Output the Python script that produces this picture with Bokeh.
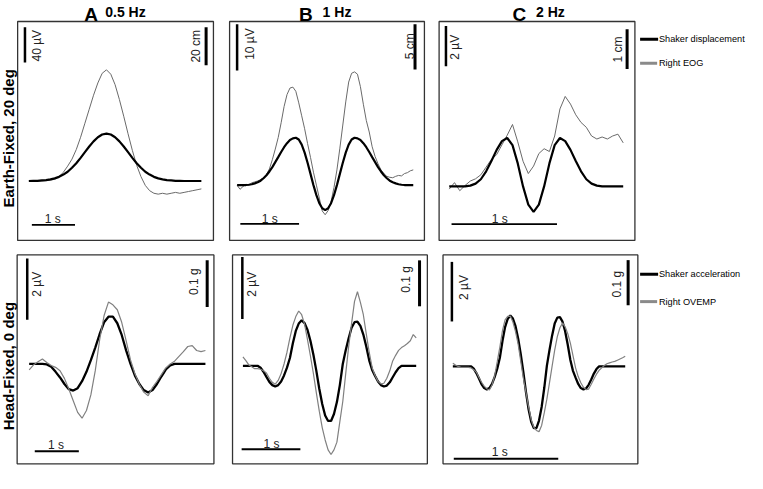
from bokeh.plotting import figure
from bokeh.models import Range1d
from bokeh.core.properties import value
from bokeh.embed import file_html
from bokeh.resources import INLINE

# ---------------- data ----------------
columns = ["A", "B", "C"]
frequencies = ["0.5 Hz", "1 Hz", "2 Hz"]
rows = ["Earth-Fixed, 20 deg", "Head-Fixed, 0 deg"]
legend_top = ["Shaker displacement", "Right EOG"]
legend_bottom = ["Shaker acceleration", "Right OVEMP"]

time_bar_s = [1, 1, 1]
eog_bar_uv = [40, 10, 2]
disp_bar_cm = [20, 5, 1]
ovemp_bar_uv = [2, 2, 2]
acc_bar_g = [0.1, 0.1, 0.1]

# A, Earth-fixed (s, cm, uV)
t_a_top = [round(0.1 * i, 2) for i in range(41)]
disp_a = [0.0, 0.1, 0.1, 0.3, 0.5, 0.9, 1.4, 2.2, 3.4, 4.9, 7.0, 9.4, 12.2, 15.2, 18.2, 20.9, 23.1,
          24.5, 25.0, 24.5, 23.1, 20.9, 18.2, 15.2, 12.2, 9.4, 7.0, 4.9, 3.4, 2.2, 1.4, 0.9, 0.5,
          0.3, 0.1, 0.1, 0.0, 0.0, 0.0, 0.0, 0.0]
eog_a = [0, 0, 0, 0, 0.5, 1, 2, 5, 10, 17, 25, 36, 50, 66, 82, 98, 112, 123, 127, 122, 110, 93,
         74, 54, 35, 18, 5, -5, -11, -14, -15, -14, -15, -14, -13, -14, -13, -12, -11, -10, -9]

# B, Earth-fixed
t_b_disp = [round(0.05 * i, 2) for i in range(61)]
disp_b = [0, 0, 0, 0.02, 0.05, 0.11, 0.2, 0.32, 0.5, 0.77, 1.1, 1.52, 2.0, 2.55, 3.1, 3.67, 4.2,
          4.65, 5.0, 5.18, 5.25, 5.05, 4.49, 3.6, 2.49, 1.25, 0.01, -1.1, -1.99, -2.55, -2.75,
          -2.55, -1.99, -1.1, 0.01, 1.25, 2.49, 3.6, 4.49, 5.05, 5.25, 5.18, 5.0, 4.65, 4.2, 3.67,
          3.1, 2.55, 2.0, 1.52, 1.1, 0.77, 0.5, 0.32, 0.2, 0.11, 0.05, 0.02, 0, 0, 0]
t_b_eog = [round(0.05 * i, 2) for i in range(61)]
eog_b = [0.0, -0.9, -0.3, 0.2, 0.0, 0.5, 0.7, 0.9, 1.2, 1.6, 2.3, 3.5, 5.5, 7.8, 10.3, 13.5,
         17.0, 19.6, 21.0, 21.2, 20.3, 17.8, 15.0, 12.2, 9.0, 6.0, 2.8, 0.0, -2.8, -5.6, -6.4,
         -5.5, -3.6, -0.5, 3.3, 8.0, 13.0, 18.0, 22.3, 24.2, 24.5, 24.0, 21.3, 17.5, 14.0, 11.5,
         8.3, 6.2, 4.6, 3.3, 2.5, 1.9, 1.7, 1.6, 1.9, 2.1, 2.0, 2.5, 2.7, 3.1, 3.3]

# C, Earth-fixed
t_c_top = [round(0.05 * i, 2) for i in range(34)]
disp_c = [0, 0, 0, 0, 0.02, 0.07, 0.18, 0.38, 0.64, 0.92, 1.14, 1.22, 1.04, 0.58, 0.0, -0.46,
          -0.64, -0.46, 0.0, 0.58, 1.04, 1.22, 1.14, 0.92, 0.64, 0.38, 0.18, 0.07, 0.02, 0, 0, 0, 0, 0]
eog_c = [-0.13, 0.19, -0.21, 0.05, 0.27, 0.38, 0.58, 0.96, 1.34, 1.58, 2.06, 2.54, 3.07, 2.21,
         1.25, 0.64, 1.01, 1.63, 1.87, 1.73, 2.50, 3.84, 4.46, 4.08, 3.55, 3.17, 2.93, 2.50, 2.35,
         2.45, 2.35, 2.50, 2.59, 2.16]

# A, Head-fixed (s, g, uV)
t_a_bot = [round(0.1 * i, 2) for i in range(41)]
acc_a = [0, 0, 0, 0, -0.001, -0.006, -0.017, -0.029, -0.043, -0.054, -0.057, -0.052, -0.037,
         -0.017, 0.008, 0.035, 0.064, 0.089, 0.101, 0.101, 0.087, 0.062, 0.029, 0.0, -0.025,
         -0.043, -0.056, -0.061, -0.056, -0.043, -0.027, -0.012, -0.003, 0, 0, 0, 0, 0, 0, 0, 0]
ovemp_a = [-0.19, -0.03, 0.07, 0.16, 0.05, -0.05, -0.11, -0.22, -0.47, -0.82, -1.20, -1.58,
           -1.77, -1.52, -1.01, -0.22, 0.79, 1.58, 2.02, 1.93, 1.77, 1.36, 0.76, 0.13, -0.32,
           -0.66, -0.92, -1.04, -0.76, -0.57, -0.35, -0.13, 0.0, 0.09, 0.25, 0.40, 0.57, 0.60,
           0.44, 0.40, 0.44]

# B, Head-fixed
t_b_bot = [round(0.05 * i, 2) for i in range(60)]
acc_b = [0, 0, 0, 0, 0, 0.0, -0.004, -0.013, -0.024, -0.035, -0.042, -0.045, -0.042, -0.034,
         -0.021, -0.004, 0.017, 0.049, 0.076, 0.092, 0.099, 0.093, 0.078, 0.054, 0.024, -0.011,
         -0.050, -0.083, -0.108, -0.120, -0.120, -0.105, -0.079, -0.042, 0.004, 0.034, 0.060,
         0.083, 0.095, 0.096, 0.087, 0.068, 0.042, 0.012, -0.009, -0.022, -0.034, -0.042, -0.045,
         -0.043, -0.036, -0.025, -0.014, -0.005, 0.0, 0, 0, 0, 0, 0]
ovemp_b = [0.29, 0.17, 0.03, -0.03, -0.09, -0.09, -0.11, -0.16, -0.23, -0.40, -0.53, -0.59,
           -0.47, -0.25, 0.06, 0.44, 0.90, 1.31, 1.59, 1.77, 1.65, 1.34, 0.84, 0.31, -0.25,
           -0.87, -1.46, -1.99, -2.39, -2.71, -2.86, -2.71, -2.46, -1.80, -1.15, -0.25, 0.62,
           1.37, 2.08, 2.39, 2.05, 1.65, 1.03, 0.44, -0.06, -0.31, -0.50, -0.58, -0.56, -0.40,
           -0.16, 0.16, 0.34, 0.50, 0.59, 0.65, 0.72, 0.81, 1.01, 0.90]

# C, Head-fixed
t_c_bot = [round(0.025 * i, 3) for i in range(67)]
acc_c = [0, 0, 0, 0, 0, 0, 0, 0, -0.005, -0.015, -0.027, -0.040, -0.048, -0.051, -0.048, -0.039,
         -0.024, -0.005, 0.019, 0.056, 0.087, 0.105, 0.113, 0.106, 0.089, 0.062, 0.027, -0.013,
         -0.057, -0.095, -0.123, -0.137, -0.137, -0.120, -0.090, -0.048, 0.001, 0.036, 0.068,
         0.095, 0.108, 0.109, 0.099, 0.078, 0.048, 0.014, -0.010, -0.025, -0.039, -0.048, -0.051,
         -0.049, -0.041, -0.029, -0.016, -0.006, 0, 0, 0, 0, 0, 0, 0, 0, 0, 0, 0]
ovemp_c = [0.11, 0.05, 0, -0.02, -0.03, -0.03, -0.03, -0.05, -0.11, -0.19,
           -0.37, -0.53, -0.66, -0.75, -0.79, -0.62, -0.32, 0.16, 0.65, 1.20,
           1.56, 1.68, 1.69, 1.49, 1.17, 0.75, 0.18, -0.39, -0.87, -1.36,
           -1.78, -2.04, -2.15, -2.19, -1.98, -1.56, -1.10, -0.55, 0.0, 0.55,
           1.00, 1.30, 1.46, 1.33, 1.10, 0.78, 0.36, -0.05, -0.34, -0.55,
           -0.70, -0.78, -0.76, -0.60, -0.42, -0.26, -0.13, -0.05, 0.03, 0.09,
           0.12, 0.15, 0.17, 0.21, 0.25, 0.29, 0.34]

# ---------------- layout (reference pixel frame 763 x 489) ----------------
W, H = 747, 473
FONT = value("Liberation Sans")

p = figure(width=W, height=H, x_range=Range1d(0, 763), y_range=Range1d(489, 0),
           output_backend="svg", toolbar_location=None, x_axis_type=None, y_axis_type=None,
           min_border=0, min_border_left=0, min_border_right=0, min_border_top=0,
           min_border_bottom=0, outline_line_color=None, background_fill_color="white",
           border_fill_color="white")
p.grid.visible = False

panels = [
    # top row: signal = EOG (uV), shaker = displacement (cm)
    dict(box=(17.5, 217.5, 21.7, 248), x=(-0.26, 4.28), sig=(-67.8, 182.2), sh=(-31.3, 84.1),
         t_sig=t_a_top, v_sig=eog_a, t_sh=t_a_top, v_sh=disp_a,
         tbar=(0.07, -50.0), sbar=(-0.09, 175.5), hbar=(4.11, 81.0), i=0, row=0),
    dict(box=(234, 433, 21.7, 248), x=(-0.128, 3.19), sig=(-11.95, 35.4), sh=(-6.1, 18.1),
         t_sig=t_b_eog, v_sig=eog_b, t_sh=t_b_disp, v_sh=disp_b,
         tbar=(0.055, -8.4), sbar=(0.0, 34.8), hbar=(3.03, 17.8), i=1, row=0),
    dict(box=(448, 648, 21.7, 248), x=(-0.096, 1.761), sig=(-2.67, 8.17), sh=(-1.36, 4.155),
         t_sig=t_c_top, v_sig=eog_c, t_sh=t_c_top, v_sh=disp_c,
         tbar=(0.022, -1.86), sbar=(-0.031, 7.95), hbar=(1.687, 3.96), i=2, row=0),
    # bottom row: signal = OVEMP (uV), shaker = acceleration (g)
    dict(box=(17, 218, 263, 479), x=(-0.273, 4.193), sig=(-3.26, 3.56), sh=(-0.2138, 0.2333),
         t_sig=t_a_bot, v_sig=ovemp_a, t_sh=t_a_bot, v_sh=acc_a,
         tbar=(0.127, -2.85), sbar=(-0.044, 3.44), hbar=(4.04, 0.222), i=0, row=1),
    dict(box=(237, 436, 263, 479), x=(-0.177, 3.14), sig=(-3.16, 3.58), sh=(-0.2134, 0.2415),
         t_sig=t_b_bot, v_sig=ovemp_b, t_sh=t_b_bot, v_sh=acc_b,
         tbar=(-0.022, -2.69), sbar=(-0.01, 3.51), hbar=(3.007, 0.2296), i=1, row=1),
    dict(box=(452, 651, 263, 479), x=(-0.094, 1.771), sig=(-3.27, 3.745), sh=(-0.216, 0.247),
         t_sig=t_c_bot, v_sig=ovemp_c, t_sh=t_c_bot, v_sh=acc_c,
         tbar=(0.009, -3.10), sbar=(-0.009, 3.51), hbar=(1.678, 0.2354), i=2, row=1),
]

# label centres (reference pixel frame)
sig_label_pos = [(37.5, 46.7), (254.7, 45), (464.2, 48.3), (37.5, 293.3), (256.7, 293.3), (473.3, 296.7)]
sh_label_pos = [(200, 47.3), (418.3, 47.3), (630.8, 50.7), (197.5, 290.7), (413.8, 288.3), (630, 293.3)]
time_label_pos = [(53.3, 225.7), (275, 225.7), (510, 225.7), (56.7, 459.3), (276.7, 458.3), (510, 466.7)]

for k, pn in enumerate(panels):
    L, R, T, B = pn["box"]
    i, row = pn["i"], pn["row"]
    sub_sig = p.subplot(x_source=Range1d(*pn["x"]), y_source=Range1d(*pn["sig"]),
                        x_target=Range1d(L, R), y_target=Range1d(B, T))
    sub_sh = p.subplot(x_source=Range1d(*pn["x"]), y_source=Range1d(*pn["sh"]),
                       x_target=Range1d(L, R), y_target=Range1d(B, T))
    # panel frame
    p.quad(left=[L], right=[R], top=[T], bottom=[B], fill_alpha=0,
           line_color="#333333", line_width=1.3)
    # traces
    if row == 0:
        sub_sig.line(pn["t_sig"], pn["v_sig"], line_color="#6a6a6a", line_width=1.0)
        sub_sh.line(pn["t_sh"], pn["v_sh"], line_color="black", line_width=2.2)
    else:
        sub_sh.line(pn["t_sh"], pn["v_sh"], line_color="black", line_width=2.3)
        sub_sig.line(pn["t_sig"], pn["v_sig"], line_color="#808080", line_width=1.2)
    # scale bars
    tb0, tby = pn["tbar"]
    sub_sig.segment(x0=[tb0], y0=[tby], x1=[tb0 + time_bar_s[i]], y1=[tby],
                    line_color="black", line_width=1.8)
    sx, stop = pn["sbar"]
    sig_len = eog_bar_uv[i] if row == 0 else ovemp_bar_uv[i]
    sub_sig.segment(x0=[sx], y0=[stop - sig_len], x1=[sx], y1=[stop],
                    line_color="black", line_width=2.5)
    hx, htop = pn["hbar"]
    sh_len = disp_bar_cm[i] if row == 0 else acc_bar_g[i]
    sub_sh.segment(x0=[hx], y0=[htop - sh_len], x1=[hx], y1=[htop],
                   line_color="black", line_width=3)
    # scale labels
    sig_txt = f"{sig_len} \u00b5V"
    sh_txt = f"{sh_len} cm" if row == 0 else f"{sh_len} g"
    p.text(x=[sig_label_pos[k][0]], y=[sig_label_pos[k][1]], text=[sig_txt], angle=1.5708,
           text_font=FONT, text_font_size="12px", text_align="center", text_baseline="middle",
           text_color="#222222")
    p.text(x=[sh_label_pos[k][0]], y=[sh_label_pos[k][1]], text=[sh_txt], angle=1.5708,
           text_font=FONT, text_font_size="12px", text_align="center", text_baseline="middle",
           text_color="#222222")
    p.text(x=[time_label_pos[k][0]], y=[time_label_pos[k][1]], text=[f"{time_bar_s[i]} s"],
           text_font=FONT, text_font_size="12px", text_align="center", text_baseline="middle",
           text_color="#222222")

# column headings
p.text(x=[92.5, 312, 530], y=[14.5, 14.5, 14.5], text=columns, text_font=FONT,
       text_font_size="19px", text_font_style="bold", text_align="center",
       text_baseline="alphabetic", text_color="black")
p.text(x=[107, 329, 547], y=[11.5, 11.5, 11.5], text=frequencies, text_font=FONT,
       text_font_size="14px", text_font_style="bold", text_align="left",
       text_baseline="alphabetic", text_color="black")

# row headings
p.text(x=[8, 8], y=[142.5, 378], text=rows, angle=1.5708, text_font=FONT,
       text_font_size="15px", text_font_style="bold", text_align="center",
       text_baseline="middle", text_color="black")

# legends
p.segment(x0=[653.3, 653.3], y0=[40, 283], x1=[671.7, 671.7], y1=[40, 283],
          line_color="black", line_width=3)
p.segment(x0=[653.3, 653.3], y0=[65, 311.3], x1=[670.7, 670.7], y1=[65, 311.3],
          line_color="#8a8a8a", line_width=3)
p.text(x=[672.5, 672.5, 672.5, 672.5], y=[40, 65, 283, 311.3],
       text=[legend_top[0], legend_top[1], legend_bottom[0], legend_bottom[1]],
       text_font=FONT, text_font_size="9.2px", text_align="left", text_baseline="middle",
       text_color="black")

open("out.html", "w").write(file_html(p, INLINE))
